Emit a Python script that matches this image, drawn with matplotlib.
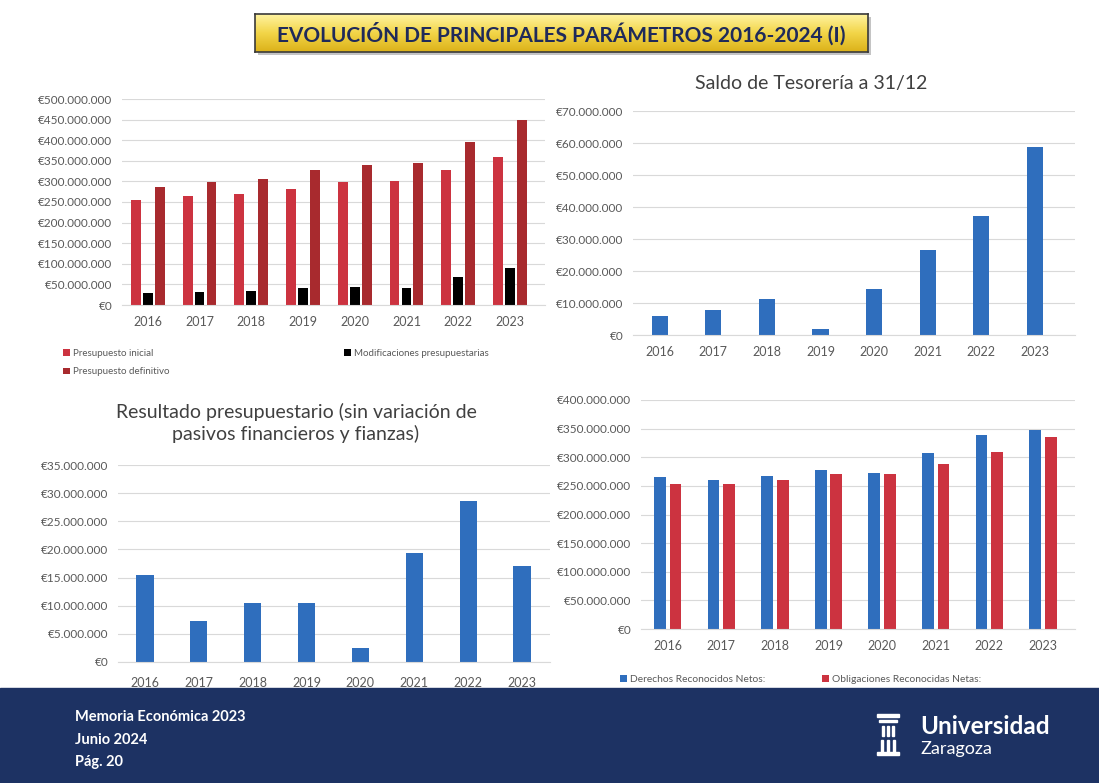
"""
Evolución de principales parámetros 2016-2024 (I)
"""

import numpy as np
from matplotlib import pyplot as plt
from matplotlib.colors import LinearSegmentedColormap
from matplotlib.patches import Rectangle
from matplotlib.ticker import FuncFormatter, MultipleLocator

W, H = 1099, 783

years = ["2016", "2017", "2018", "2019", "2020", "2021", "2022", "2023"]

# Presupuesto (EUR)
presupuesto_inicial = [255.6e6, 265.0e6, 268.5e6, 282.0e6, 298.0e6, 301.6e6, 328.0e6, 360.0e6]
modificaciones = [29.0e6, 30.6e6, 34.7e6, 41.0e6, 42.7e6, 41.0e6, 67.0e6, 88.7e6]
presupuesto_definitivo = [285.5e6, 297.6e6, 305.6e6, 326.6e6, 341.0e6, 345.0e6, 396.8e6, 450.0e6]

# Saldo de tesorería a 31/12
saldo_tesoreria = [6.0e6, 7.7e6, 11.4e6, 1.8e6, 14.5e6, 26.6e6, 37.3e6, 58.9e6]

# Resultado presupuestario
resultado_presupuestario = [15.5e6, 7.2e6, 10.5e6, 10.5e6, 2.5e6, 19.3e6, 28.6e6, 17.0e6]

# Derechos / obligaciones reconocidas netas
derechos_netos = [265.3e6, 260.0e6, 267.6e6, 277.6e6, 271.7e6, 307.3e6, 339.4e6, 348.0e6]
obligaciones_netas = [254.0e6, 253.6e6, 259.5e6, 270.0e6, 270.5e6, 287.5e6, 310.0e6, 335.9e6]

FONT = ["Lato", "DejaVu Sans"]
plt.rcParams["font.family"] = FONT

BLUE = "#2f6ebd"
RED = "#cc3340"
RED_DARK = "#a82a2e"
NAVY = "#1d3263"
GRID = "#d9d9d9"
TXT = "#595959"


def box(l, t, r, b):
    return [l / W, 1 - b / H, (r - l) / W, (b - t) / H]


def euro(v, pos):
    return "€" + f"{int(round(v)):,}".replace(",", ".")


def _style(ax, xmax, ymax, step, xpad=8):
    ax.set_xlim(-0.5, xmax)
    ax.set_ylim(0, ymax)
    ax.yaxis.set_major_locator(MultipleLocator(step))
    ax.yaxis.set_major_formatter(FuncFormatter(euro))
    ax.grid(axis="y", color=GRID, linewidth=0.8, zorder=0)
    ax.set_axisbelow(True)
    for s in ["top", "right", "left"]:
        ax.spines[s].set_visible(False)
    ax.spines["bottom"].set_color(GRID)
    ax.set_xticks(np.arange(len(years)))
    ax.set_xticklabels(years)
    ax.tick_params(axis="both", length=0, colors=TXT, labelsize=8.5)
    ax.tick_params(axis="x", pad=xpad, labelsize=9)
    ax.tick_params(axis="y", pad=7)


fig = plt.figure(figsize=(W / 100, H / 100), dpi=100)
x = np.arange(len(years))

# --- Presupuesto ---
ax1 = fig.add_axes(box(122, 99, 545, 305))
_style(ax1, 7.68, 500e6, 50e6)
w = 0.19
b1 = ax1.bar(x - 0.23, presupuesto_inicial, w, color=RED, zorder=2)
b2 = ax1.bar(x, modificaciones, w, color="black", zorder=2)
b3 = ax1.bar(x + 0.23, presupuesto_definitivo, w, color=RED_DARK, zorder=2)
ax1.legend([b1, b3, b2],
           ["Presupuesto inicial", "Presupuesto definitivo",
            "Modificaciones presupuestarias"],
           ncol=2, loc="upper left", bbox_to_anchor=(-0.16, -0.17),
           frameon=False, fontsize=7, labelcolor=TXT, handlelength=0.7,
           handleheight=0.7, handletextpad=0.3, columnspacing=18,
           labelspacing=1.0)

# --- Saldo de tesorería ---
ax2 = fig.add_axes(box(633, 111, 1075, 335))
_style(ax2, 7.75, 70e6, 10e6)
ax2.bar(x, saldo_tesoreria, 0.3, color=BLUE, zorder=2)
fig.text(811 / W, 1 - 83 / H, "Saldo de Tesorería a 31/12", ha="center",
         va="center", fontsize=14, color="#404040")

# --- Resultado presupuestario ---
ax3 = fig.add_axes(box(118, 465, 550, 662))
_style(ax3, 7.52, 35e6, 5e6, xpad=11)
ax3.bar(x, resultado_presupuestario, 0.32, color=BLUE, zorder=2)
fig.text(296 / W, 1 - 423 / H,
         "Resultado presupuestario (sin variación de\n"
         "pasivos financieros y fianzas)",
         ha="center", va="center", fontsize=14, color="#404040",
         linespacing=1.3)

# --- Derechos / obligaciones ---
ax4 = fig.add_axes(box(641, 400, 1075, 629))
_style(ax4, 7.6, 400e6, 50e6)
d = ax4.bar(x - 0.145, derechos_netos, 0.22, color=BLUE, zorder=2)
o = ax4.bar(x + 0.145, obligaciones_netas, 0.22, color=RED, zorder=2)
ax4.legend([d, o], ["Derechos Reconocidos Netos:",
                    "Obligaciones Reconocidas Netas:"],
           ncol=2, loc="upper left", bbox_to_anchor=(-0.07, -0.16),
           frameon=False, fontsize=7.4, labelcolor=TXT, handlelength=0.7,
           handleheight=0.7, handletextpad=0.3, columnspacing=5.5)

# --- Title banner ---
sax = fig.add_axes(box(258, 17, 871, 55))
sax.set_facecolor("#c4c4c4")
sax.set_xticks([])
sax.set_yticks([])
for s in sax.spines.values():
    s.set_visible(False)
tax = fig.add_axes(box(255, 14, 868, 52))
grad = np.linspace(0, 1, 50).reshape(-1, 1)
tax.imshow(grad, aspect="auto", extent=[0, 1, 0, 1],
           cmap=LinearSegmentedColormap.from_list(
               "y", ["#fff3a0", "#f2d548", "#dcb21a"]))
tax.set_xticks([])
tax.set_yticks([])
for s in tax.spines.values():
    s.set_color("#3a3a3a")
    s.set_linewidth(1.2)
tax.text(0.5, 0.48, "EVOLUCIÓN DE PRINCIPALES PARÁMETROS 2016-2024 (I)",
         ha="center", va="center", fontsize=15, fontweight="bold",
         color="#1f2a5a", transform=tax.transAxes)

# --- Footer ---
fig.patches.append(Rectangle((0, 0), 1, 1 - 688 / H, transform=fig.transFigure,
                             color=NAVY, zorder=-1))
for txt, yy in [("Memoria Económica 2023", 717), ("Junio 2024", 740),
                ("Pág. 20", 762)]:
    fig.text(75 / W, 1 - yy / H, txt, ha="left", va="center", fontsize=10.5,
             fontweight="bold", color="white")
fig.text(920 / W, 1 - 727 / H, "Universidad", ha="left", va="center",
         fontsize=17.5, fontweight="bold", color="white")
fig.text(920 / W, 1 - 749 / H, "Zaragoza", ha="left", va="center",
         fontsize=13, color="white")
# small logo mark
for (l, t, r, b) in [(877, 714, 899, 717), (879, 720, 897, 722),
                     (882, 726, 884, 736), (887, 726, 889, 736),
                     (892, 726, 894, 736), (881, 740, 883, 752),
                     (887, 740, 889, 752), (893, 740, 895, 752),
                     (877, 752, 899, 755)]:
    fig.patches.append(Rectangle((l / W, 1 - b / H), (r - l) / W, (b - t) / H,
                                 transform=fig.transFigure, color="white"))

fig.savefig("out.png", dpi=100)
